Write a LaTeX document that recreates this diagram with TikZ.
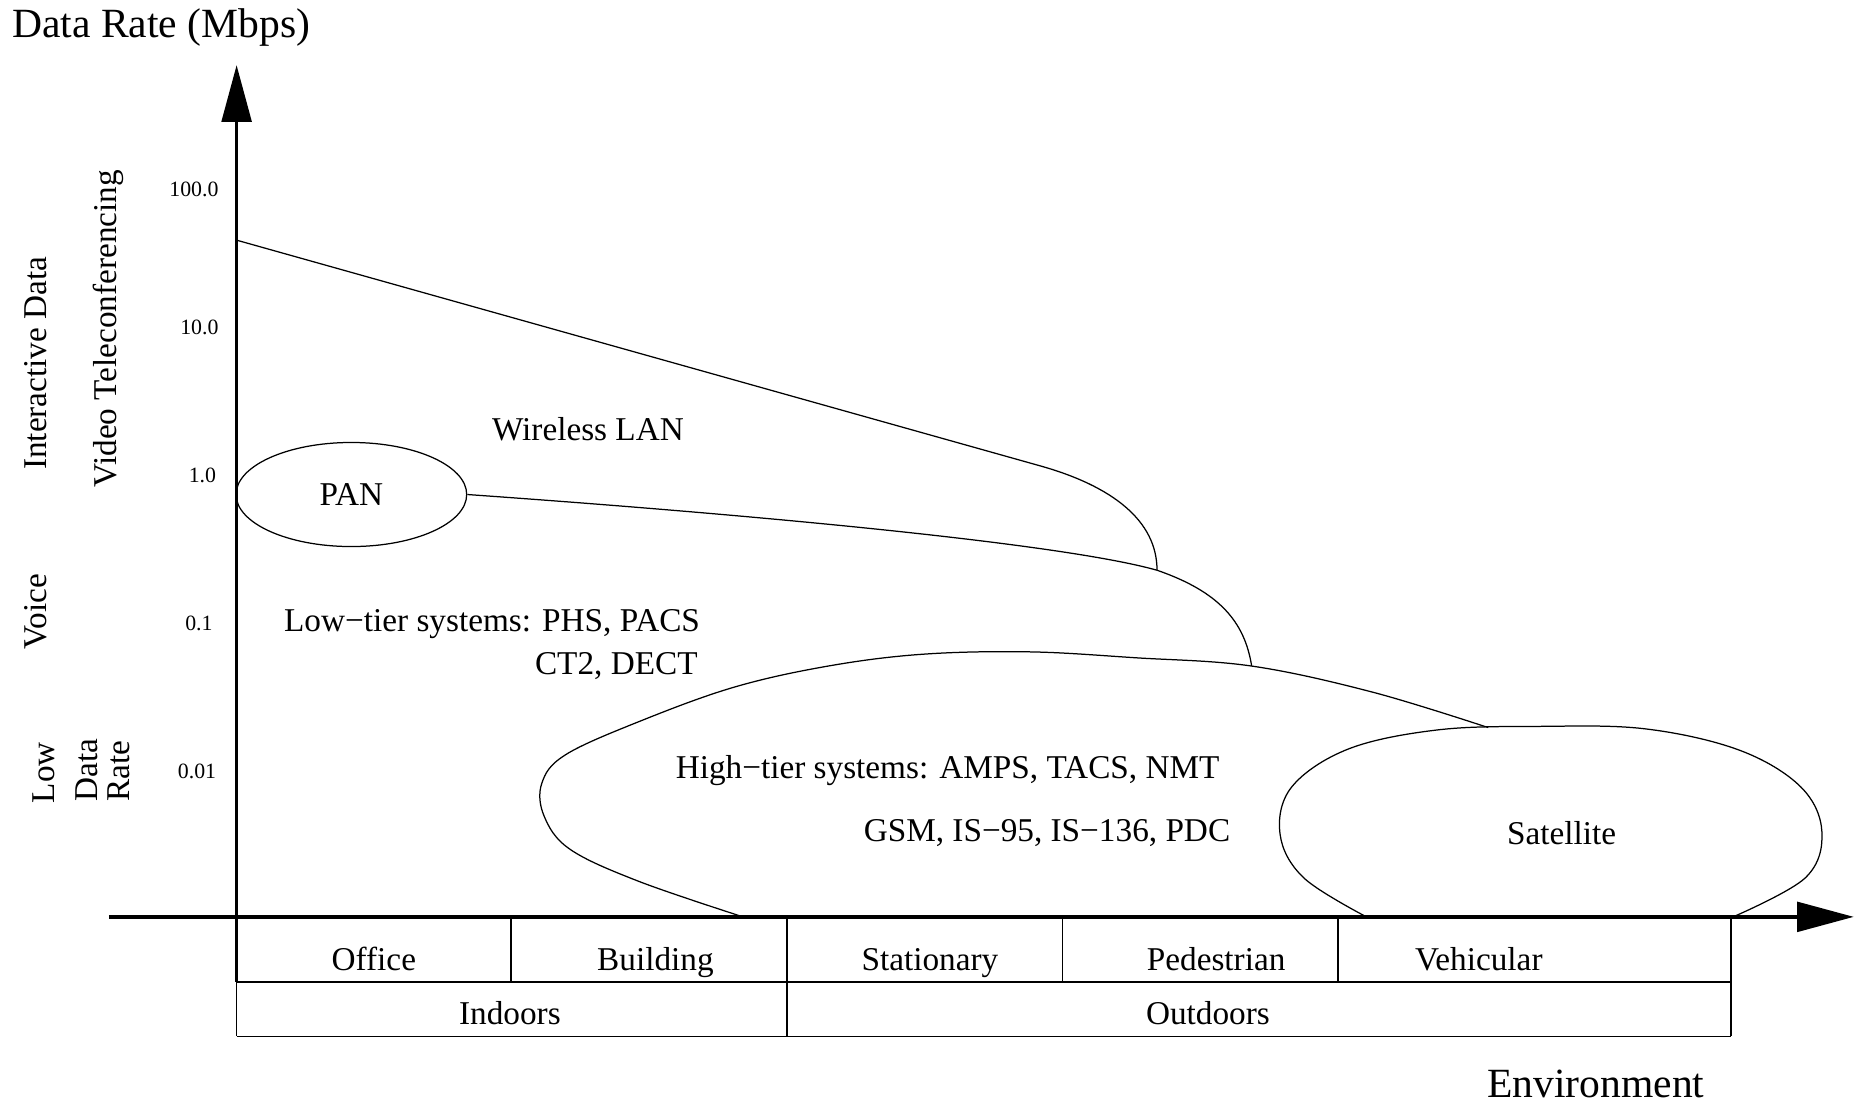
\documentclass[tikz,border=0pt]{standalone}
\usepackage{fontspec}
\setmainfont{Liberation Serif}
\usetikzlibrary{shapes.geometric,arrows.meta}
\begin{document}
\begin{tikzpicture}[x=0.02cm,y=-0.02cm,
  lbl/.style={font=\fontsize{16}{19}\selectfont, inner sep=0pt},
  cell/.style={font=\fontsize{16}{19}\selectfont, inner sep=0pt, anchor=base},
  big/.style={font=\fontsize{20}{24}\selectfont, inner sep=0pt},
  ticklbl/.style={font=\fontsize{10.5}{12}\selectfont, inner sep=0pt, anchor=east},
  thinline/.style={line width=0.6pt},
  tableline/.style={line width=0.8pt},
  axisline/.style={line width=1.8pt, -{Triangle[length=0.96cm,width=0.5cm]}}]
\useasboundingbox (0,0) rectangle (1568,933);

% axes
\coordinate (yb) at (200,830);
\coordinate (yt) at (200,55);
\coordinate (xl) at (92,775);
\coordinate (xr) at (1567,775);
\draw[axisline] (yb) -- (yt);
\draw[axisline] (xl) -- (xr);

\node[big, anchor=base west] (title) at (10,32) {Data Rate (Mbps)};
\node[big, anchor=base] (env) at (1349,928) {Environment};

% tick labels
\node[ticklbl] (t100) at (185,160) {100.0};
\node[ticklbl] (t10) at (185,277) {10.0};
\node[ticklbl] (t1) at (183,402) {1.0};
\node[ticklbl] (t01) at (180,527) {0.1};
\node[ticklbl] (t001) at (183,652) {0.01};

% rotated application labels
\node[lbl, rotate=90] (idata) at (30,307) {Interactive Data};
\node[lbl, rotate=90] (video) at (92,278) {Video Teleconferencing};
\node[lbl, rotate=90] (voice) at (30,517) {Voice};
\node[lbl, rotate=90] (low) at (37,653) {Low};
\node[lbl, rotate=90] (ldata) at (73,651) {Data};
\node[lbl, rotate=90] (lrate) at (100,652) {Rate};

% PAN
\node[draw, thinline, ellipse, minimum width=3.9cm, minimum height=1.76cm, inner sep=0pt,
      font=\fontsize{16}{19}\selectfont] (pan) at (297,418) {PAN};

% WLAN boundary
\coordinate (wl0) at (200,203);
\coordinate (wl1) at (880,394);
\coordinate (j1) at (978,482);
\draw[thinline] (wl0) -- (wl1) .. controls (940,411) and (978,440) .. (j1);

% PAN / low-tier boundary
\coordinate (j2) at (1058,563);
\draw[thinline] (pan.east) .. controls (650,436) and (900,460) .. (j1)
  .. controls (1030,500) and (1052,525) .. (j2);

% high-tier region
\coordinate (ht0) at (628,775);
\coordinate (ht1) at (1258,615);
\draw[thinline] plot[smooth, tension=0.6] coordinates {(628,775) (540,745) (482,718) (460,690) (458,662) (478,638) (540,610) (620,581) (700,563) (780,553) (870,551) (960,556) (1058,563) (1160,585) (1258,615)};

% satellite
\draw[thinline] plot[smooth, tension=0.6] coordinates {(1155,775) (1102,742) (1082,705) (1092,665) (1140,633) (1215,617) (1300,614) (1390,616) (1470,634) (1522,665) (1540,703) (1526,742) (1465,775)};

\node[lbl] (wlan) at (497,363) {Wireless LAN};
\node[lbl, anchor=base east] (lt1) at (592,534) {Low−tier systems: PHS, PACS};
\node[lbl, anchor=base east] (lt2) at (590,570) {CT2, DECT};
\node[lbl] (ht1l) at (801,651) {High−tier systems: AMPS, TACS, NMT};
\node[lbl] (ht2l) at (885,704) {GSM, IS−95, IS−136, PDC};
\node[lbl] (sat) at (1320,704) {Satellite};

% table
\coordinate (ta) at (200,830);
\coordinate (tb) at (1463,830);
\coordinate (tc) at (200,876);
\coordinate (td) at (1463,876);
\coordinate (te) at (1463,775);
\draw[tableline] (ta) -- (tb);
\draw[tableline] (tc) -- (td);
\draw[tableline] (ta) -- (tc);
\draw[tableline] (te) -- (td);
\draw[tableline] (432,775) -- (432,830);
\draw[tableline] (665,775) -- (665,876);
\draw[tableline] (898,775) -- (898,830);
\draw[tableline] (1131,775) -- (1131,830);

\node[cell] (office) at (316,820) {Office};
\node[cell] (building) at (554,820) {Building};
\node[cell] (stationary) at (786,820) {Stationary};
\node[cell] (pedestrian) at (1028,820) {Pedestrian};
\node[cell] (vehicular) at (1250,820) {Vehicular};
\node[cell] (indoors) at (431,866) {Indoors};
\node[cell] (outdoors) at (1021,866) {Outdoors};
\end{tikzpicture}
\end{document}
